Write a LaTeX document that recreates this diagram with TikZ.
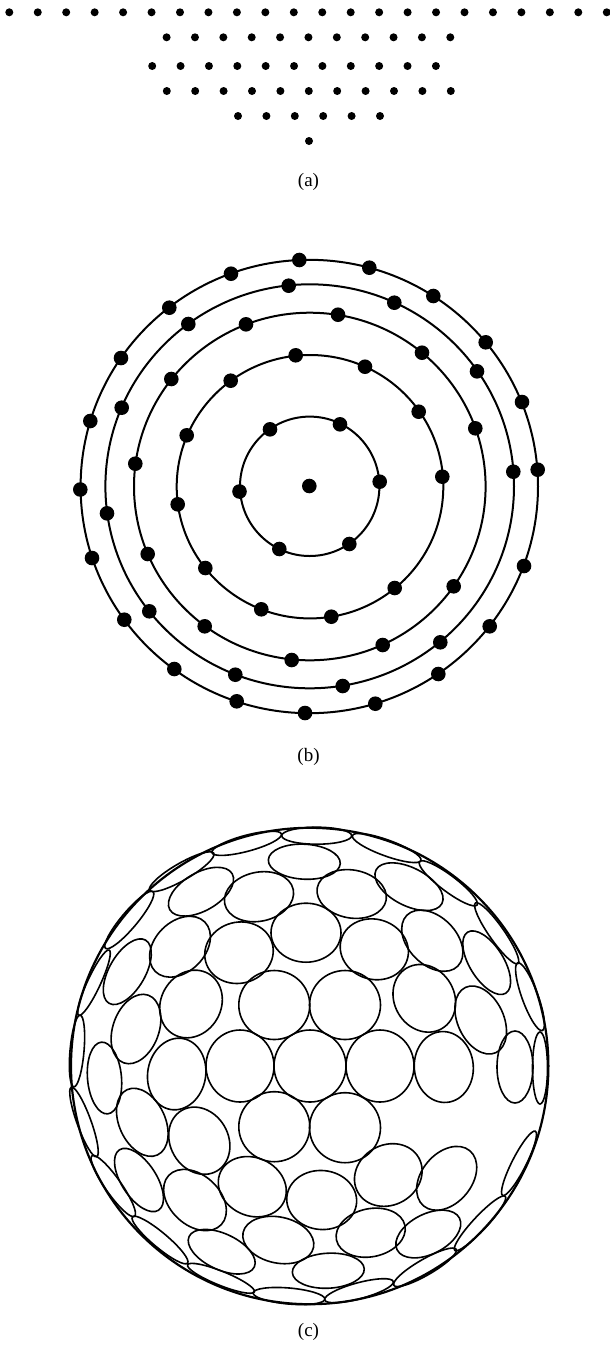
\documentclass[tikz,border=0pt]{standalone}
\usepackage{fontspec}
\setmainfont{Liberation Serif}
\tikzset{
  dota/.style={fill=black,draw=none},
  ringline/.style={draw=black,line width=2pt},
  rimline/.style={draw=black,line width=2.2pt},
  dimple/.style={draw=black,line width=1.6pt},
  captionlabel/.style={font=\fontsize{19}{21}\selectfont,inner sep=0pt,text=black}
}
\newcommand{\dimp}[5]{\draw[dimple,shift={(#1,#2)},rotate=#5] (0,0) ellipse [x radius=#3pt, y radius=#4pt];}
\begin{document}
\begin{tikzpicture}[x=1pt,y=-1pt]
\useasboundingbox (0,0) rectangle (610,1353);
% (a)
\foreach \i in {0,...,21} \fill[dota] ({9.3+\i*28.45},12.3) circle [radius=4pt];
\foreach \i in {0,...,10} \fill[dota] ({166.6+\i*28.37},37.3) circle [radius=4pt];
\foreach \i in {0,...,10} \fill[dota] ({152.2+\i*28.37},66) circle [radius=4pt];
\foreach \i in {0,...,10} \fill[dota] ({166.8+\i*28.4},91) circle [radius=4pt];
\foreach \i in {0,...,5} \fill[dota] ({238+\i*28.4},116) circle [radius=4pt];
\fill[dota] (309,141) circle [radius=4pt];
\node[captionlabel] (capa) at (308.5,181.5) {(a)};
% (b)
\draw[ringline] (309.3,486.5) ellipse [x radius=228.7pt, y radius=226.7pt];
\draw[ringline] (309.7,486.3) ellipse [x radius=204.3pt, y radius=202pt];
\draw[ringline] (309.8,486.5) ellipse [x radius=175.8pt, y radius=173.8pt];
\draw[ringline] (310,486.7) ellipse [x radius=133.3pt, y radius=131.7pt];
\draw[ringline] (309.7,486.3) ellipse [x radius=69.7pt, y radius=69.7pt];
\foreach \px/\py in {
 299.3/260,231/273.7,169.3/307.7,121/358,90.3/421,80.3/489.5,
 288.7/285.7,188.3/324,121.7/407.7,
 246/324.3,171.3/379,135.3/463.7,
 295.7/355.3,230.7/380.7,186.7/435.3,
 270/429.3,239.5/491.5,
 309.3/486,
 369.3/267.7,433.3/296,485.7/342.3,522/402,537.7/469.7,
 394.3/302.7,477/371.3,513.3/471.7,
 338/314.7,422/352.7,475.3/428.3,
 365/366.7,418.7/411.7,442.3/476.7,
 340/424.3,379.7/481.7,
 92/558,124.3/619.7,174.3/669,236.7/701.3,305/713,
 107/513.3,149.3/611.3,235.3/674.7,
 147.7/554,204.7/626.3,291.7/660,
 177.7/504.3,205.3/568,261.3/609.3,
 279.3/549,
 375.3/703.7,438.3/674,489.7/626.3,524/566,
 342.7/686,440.3/642.3,
 382.7/645,453.7/586.3,
 331.3/616.7,394.7/588,
 349.3/544}
 \fill[dota] (\px,\py) circle [radius=7.3pt];
\node[captionlabel] (capb) at (308.5,757) {(b)};
% (c)
\draw[rimline] (309.7,1066) ellipse [x radius=238.7pt, y radius=238.2pt];
\dimp{316.7}{835.7}{35}{8.5}{0}
\dimp{246.7}{843.3}{36}{8}{15}
\dimp{386.7}{848}{36.5}{8}{-20}
\dimp{304.3}{861.7}{36}{17.5}{-3}
\dimp{181.7}{871.7}{37}{8.5}{30}
\dimp{201}{891.7}{36}{19}{30}
\dimp{259}{896.7}{35}{24.5}{12}
\dimp{351.7}{894}{35}{24}{-10}
\dimp{409}{886.7}{37}{19}{-27}
\dimp{448.3}{883.3}{36}{8}{-37}
\dimp{129.3}{920}{37}{8}{50}
\dimp{306}{932.7}{35}{29.5}{0}
\dimp{239}{952.7}{34.5}{30.5}{15}
\dimp{374.3}{949.3}{34.5}{30}{-18}
\dimp{180}{946.7}{35}{25}{45}
\dimp{432.3}{940.7}{36}{24}{-45}
\dimp{127.3}{971.7}{36.5}{18}{60}
\dimp{486.7}{962.7}{36}{17}{-58}
\dimp{496.7}{933.3}{37}{7.5}{-55}
\dimp{94}{982.7}{36}{6.5}{65}
\dimp{530}{996.7}{36}{8}{-70}
\dimp{191}{1004}{35}{30}{60}
\dimp{274.3}{1005}{35.5}{34.5}{0}
\dimp{345}{1005}{35.5}{34.5}{0}
\dimp{424.3}{998.3}{35}{30}{-60}
\dimp{480.7}{1020}{36}{23}{-65}
\dimp{136}{1029}{36}{23}{70}
\dimp{176.7}{1074}{36}{29}{80}
\dimp{240}{1066}{36}{34}{90}
\dimp{310}{1066}{36}{36}{0}
\dimp{380}{1066}{36}{34}{90}
\dimp{443.8}{1067}{35.5}{29.5}{95}
\dimp{515}{1067}{36}{18}{90}
\dimp{540}{1068}{36}{7.5}{90}
\dimp{104.5}{1078}{36}{17}{95}
\dimp{77}{1051}{36}{7}{85}
\dimp{84}{1122}{37}{7}{-70}
\dimp{142.3}{1122.3}{36}{23}{-65}
\dimp{199.3}{1140.7}{35}{29}{-60}
\dimp{274.3}{1126.7}{35.5}{35}{0}
\dimp{345}{1127.7}{35.5}{35}{0}
\dimp{388.3}{1175}{35}{30}{30}
\dimp{446.7}{1178.3}{36}{25}{50}
\dimp{252.3}{1186.7}{35}{29}{-25}
\dimp{321.7}{1200}{35}{29.5}{-5}
\dimp{139}{1180}{36}{17.5}{-57}
\dimp{195}{1200}{36}{25}{-43}
\dimp{113.3}{1186}{37}{8}{-55}
\dimp{160}{1240}{36}{7.5}{-40}
\dimp{221.7}{1251.7}{36}{18}{-25}
\dimp{278.3}{1240}{36}{23}{-12}
\dimp{370.7}{1232.7}{35}{24}{12}
\dimp{428.3}{1234}{35}{20}{27}
\dimp{328.3}{1270.7}{36}{17.5}{3}
\dimp{221}{1278.3}{36}{7}{-22}
\dimp{289}{1296}{36}{8}{-5}
\dimp{359}{1290.7}{35.5}{8}{15}
\dimp{425}{1267.3}{36}{8}{30}
\dimp{480}{1223.3}{37}{7}{47}
\dimp{519}{1163.3}{36}{7}{63}
\node[captionlabel] (capc) at (308.5,1332) {(c)};
\end{tikzpicture}
\end{document}
